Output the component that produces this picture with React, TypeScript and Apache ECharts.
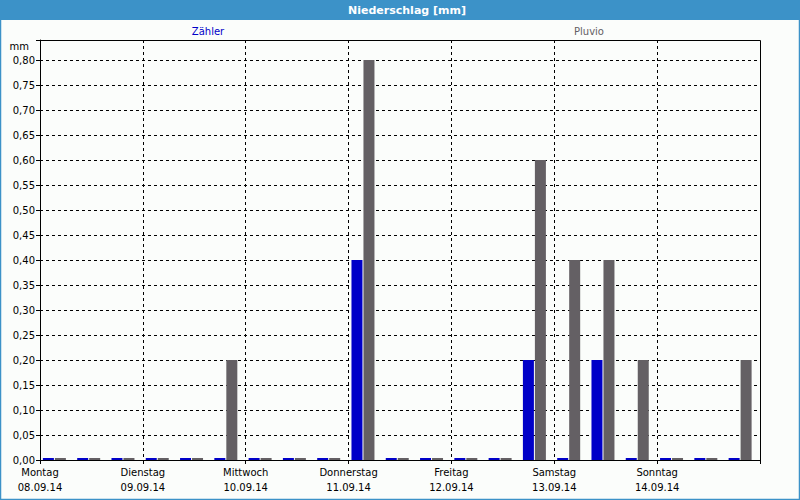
import React, { useEffect, useRef } from "react";
import * as echarts from "echarts";

const slots: string[] = [
  "08.09 00", "08.09 08", "08.09 16",
  "09.09 00", "09.09 08", "09.09 16",
  "10.09 00", "10.09 08", "10.09 16",
  "11.09 00", "11.09 08", "11.09 16",
  "12.09 00", "12.09 08", "12.09 16",
  "13.09 00", "13.09 08", "13.09 16",
  "14.09 00", "14.09 08", "14.09 16",
];
const zaehler: number[] = [
  0, 0, 0,
  0, 0, 0,
  0, 0, 0,
  0.4, 0, 0,
  0, 0, 0.2,
  0, 0.2, 0,
  0, 0, 0,
];
const pluvio: number[] = [
  0, 0, 0,
  0, 0, 0.2,
  0, 0, 0,
  0.8, 0, 0,
  0, 0, 0.6,
  0.4, 0.4, 0.2,
  0, 0, 0.2,
];
const dayNames: string[] = ["Montag", "Dienstag", "Mittwoch", "Donnerstag", "Freitag", "Samstag", "Sonntag"];
const dayDates: string[] = ["08.09.14", "09.09.14", "10.09.14", "11.09.14", "12.09.14", "13.09.14", "14.09.14"];

const FONT = "DejaVu Sans";

export default function App() {
  const ref = useRef<HTMLDivElement>(null);
  useEffect(() => {
    if (!ref.current) return;
    const chart = echarts.init(ref.current, null, { renderer: "svg" });
    chart.setOption({
      animation: false,
      backgroundColor: "#fbfdfb",
      textStyle: { fontFamily: FONT },
      graphic: [
        { type: "rect", shape: { x: 0, y: 0, width: 800, height: 20 }, style: { fill: "#3c92c8" }, silent: true },
        { type: "rect", shape: { x: 0.5, y: 0.5, width: 799, height: 499 }, style: { fill: "none", stroke: "#3c92c8", lineWidth: 1.5 }, silent: true },
        { type: "text", x: 407, y: 10, style: { text: "Niederschlag [mm]", fill: "#ffffff", font: `bold 11px "${FONT}"`, align: "center", verticalAlign: "middle" } },
        { type: "text", x: 208, y: 31, style: { text: "Zähler", fill: "#0000c8", font: `10px "${FONT}"`, align: "center", verticalAlign: "middle" } },
        { type: "text", x: 589, y: 31, style: { text: "Pluvio", fill: "#646064", font: `10px "${FONT}"`, align: "center", verticalAlign: "middle" } },
        { type: "text", x: 29, y: 46, style: { text: "mm", fill: "#000000", font: `10px "${FONT}"`, align: "right", verticalAlign: "middle" } },
        { type: "rect", z: 100, shape: { x: 40.5, y: 40.5, width: 720, height: 420 }, style: { fill: "none", stroke: "#000", lineWidth: 1 }, silent: true },
      ],
      grid: { left: 40, right: 40, top: 40, bottom: 40, show: false },
      xAxis: [
        {
          type: "category",
          data: slots,
          position: "top",
          show: false,
          boundaryGap: true,
        },
        {
          type: "value",
          min: 0,
          max: 7,
          interval: 1,
          position: "bottom",
          axisLine: { show: true, lineStyle: { color: "#000", width: 1 } },
          axisTick: { show: true, length: 4, lineStyle: { color: "#000" } },
          axisLabel: {
            color: "#000",
            fontSize: 10,
            fontFamily: FONT,
            lineHeight: 15,
            margin: 5,
            showMinLabel: true,
            showMaxLabel: true,
            formatter: (v: number) => (v < 7 ? `${dayNames[v]}\n${dayDates[v]}` : ""),
          },
          splitLine: { show: true, showMinLine: false, showMaxLine: false, lineStyle: { color: "#000", type: [3, 3], width: 1 } },
        },
      ],
      yAxis: {
        type: "value",
        min: 0,
        max: 0.84,
        interval: 0.05,
        axisLine: { show: true, lineStyle: { color: "#000" } },
        axisTick: { show: true, length: 4, lineStyle: { color: "#000" } },
        axisLabel: {
          color: "#000",
          fontSize: 10,
          fontFamily: FONT,
          margin: 5,
          formatter: (v: number) => (v > 0.801 ? "" : v.toFixed(2).replace(".", ",")),
        },
        splitLine: { show: true, showMinLine: false, showMaxLine: false, lineStyle: { color: "#000", type: [3, 3], width: 1 } },
      },
      series: [
        {
          name: "Zähler",
          type: "bar",
          xAxisIndex: 0,
          data: zaehler,
          barWidth: 11,
          barGap: "9%",
          barMinHeight: 2,
          itemStyle: { color: "#0000c8" },
        },
        {
          name: "Pluvio",
          type: "bar",
          xAxisIndex: 0,
          data: pluvio,
          barWidth: 11,
          barGap: "9%",
          barMinHeight: 2,
          itemStyle: { color: "#646064" },
        },
        {
          name: "spacer",
          type: "bar",
          xAxisIndex: 0,
          data: [],
          barWidth: 4.5,
          barGap: "9%",
          silent: true,
          itemStyle: { opacity: 0 },
        },
      ],
    });
    return () => chart.dispose();
  }, []);
  return <div ref={ref} style={{ width: 800, height: 500, position: "absolute", left: 0, top: 0 }} />;
}
